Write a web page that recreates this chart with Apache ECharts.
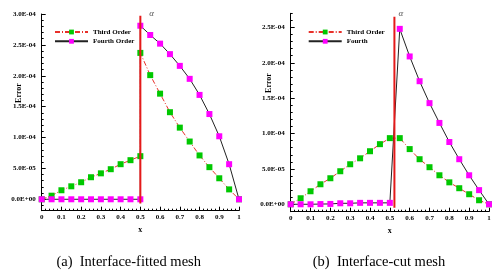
<!DOCTYPE html>
<html>
<head>
<meta charset="utf-8">
<script src="https://cdn.jsdelivr.net/npm/echarts@6/dist/echarts.min.js"></script>
<style>
html,body{margin:0;padding:0;background:#fff;}
#c{width:503px;height:276px;}
</style>
</head>
<body>
<div id="c"></div>
<script>
// ---- data ----
const xA = [0,0.05,0.1,0.15,0.2,0.25,0.3,0.35,0.4,0.45,0.5,0.5,0.55,0.6,0.65,0.7,0.75,0.8,0.85,0.9,0.95,1.0];
const thirdA = [0,5.8e-6,1.46e-5,2.1e-5,2.76e-5,3.57e-5,4.2e-5,4.87e-5,5.68e-5,6.33e-5,6.98e-5,2.37e-4,2.01e-4,1.71e-4,1.41e-4,1.16e-4,9.35e-5,7.1e-5,5.2e-5,3.4e-5,1.6e-5,0];
const fourthA = [0,0,0,0,0,0,0,0,0,0,0,2.81e-4,2.66e-4,2.52e-4,2.35e-4,2.16e-4,1.95e-4,1.69e-4,1.38e-4,1.02e-4,5.68e-5,0];
const xB = [0,0.05,0.1,0.15,0.2,0.25,0.3,0.35,0.4,0.45,0.5,0.55,0.6,0.65,0.7,0.75,0.8,0.85,0.9,0.95,1.0];
const thirdB = [0,8.5e-6,1.84e-5,2.83e-5,3.68e-5,4.67e-5,5.66e-5,6.5e-5,7.5e-5,8.5e-5,9.35e-5,9.35e-5,7.8e-5,6.37e-5,5.24e-5,4.1e-5,3.1e-5,2.27e-5,1.42e-5,5.7e-6,0];
const fourthB = [0,0,0,3e-7,5e-7,1.4e-6,1.4e-6,2e-6,2e-6,2e-6,2e-6,2.48e-4,2.09e-4,1.74e-4,1.43e-4,1.15e-4,8.8e-5,6.37e-5,4.1e-5,2e-5,0];
const alphaA = 0.5, alphaLineA = [-7e-6, 2.97e-4];
const alphaB = 0.523, alphaLineB = [-5e-6, 2.65e-4];
const yTicksA = [0,5e-5,1e-4,1.5e-4,2e-4,2.5e-4,3e-4];
const yTicksB = [0,5e-5,1e-4,1.5e-4,2e-4,2.5e-4];
const namesA = ['Third Order','Fourth Order'];
const namesB = ['Third Order','Fourth'];
const captions = ['(a)  Interface-fitted mesh','(b)  Interface-cut mesh'];

// ---- helpers ----
function fmtE(v){
  let s = Number(v).toExponential(1).toUpperCase();
  return s.replace(/E([+-])(\d+)$/, function(m,sg,d){ return 'E'+sg+(d.length<2?'0'+d:d); });
}
function minorList(lo, hi, step, major){
  const out=[];
  for(let i=Math.ceil(lo/step - 1e-9); i*step<=hi+1e-12; i++){
    if(i%major!==0) out.push(+(i*step).toPrecision(6));
  }
  return out;
}
const serif = 'Liberation Serif';
const lblStyle = {fontFamily:serif, fontWeight:'bold', fontSize:7, color:'#000'};

function yAxes(grid, min, max, ticks){
  return [
    {type:'value', gridIndex:grid, min:min, max:max, position:'left',
     splitLine:{show:false},
     axisLine:{show:true, lineStyle:{color:'#000', width:1}},
     axisTick:{show:true, inside:true, length:4, customValues:ticks, lineStyle:{color:'#000'}},
     axisLabel:Object.assign({show:true, customValues:ticks, formatter:fmtE, margin:6}, lblStyle)},
    {type:'value', gridIndex:grid, min:min, max:max, position:'left',
     splitLine:{show:false}, axisLine:{show:false},
     axisTick:{show:true, inside:true, length:2, customValues:minorList(min,max,1e-5,5), lineStyle:{color:'#000'}},
     axisLabel:{show:false}}
  ];
}
function xAxis(grid){
  return {type:'value', gridIndex:grid, min:0, max:1, interval:0.1,
    splitLine:{show:false},
    axisLine:{show:true, onZero:false, lineStyle:{color:'#000', width:1}},
    axisTick:{show:true, inside:true, length:4, lineStyle:{color:'#000'}},
    minorTick:{show:true, splitNumber:5, length:2, lineStyle:{color:'#000'}},
    axisLabel:Object.assign({margin:3, formatter:function(v){return String(+v.toFixed(2));}}, lblStyle),
    name:'x', nameLocation:'middle', nameGap:9,
    nameTextStyle:{fontFamily:serif, fontWeight:'bold', fontSize:8, color:'#000'}};
}
function pairs(xs, ys){ return xs.map((x,i)=>[x, ys[i]]); }

const thirdStyle = {
  type:'line', symbol:'rect', symbolSize:6,
  itemStyle:{color:'#00c800'},
  lineStyle:{color:'#e8302a', width:1, type:[5,2,1,2]},
  z:2
};
const fourthStyle = {
  type:'line', symbol:'rect', symbolSize:6,
  itemStyle:{color:'#ff00ff'},
  lineStyle:{color:'#222', width:1},
  z:3
};
function alphaSeries(xi, yAx, x, yr, off){
  return {type:'line', xAxisIndex:xi, yAxisIndex:yAx, symbol:'none', silent:true, z:4,
    lineStyle:{color:'#e41a1a', width:2},
    endLabel:{show:true, formatter:'α', distance:0, offset:off, align:'left',
      fontFamily:serif, fontStyle:'italic', fontSize:9, color:'#555'},
    data:[[x,yr[0]], [x,yr[1]]]};
}

const chart = echarts.init(document.getElementById('c'), null, {renderer:'canvas'});
const option = {
  animation:false,
  backgroundColor:'#fff',
  grid:[
    {left:41.7, top:14, width:197.3, height:196.7, containLabel:false},
    {left:290.7, top:13.3, width:198.3, height:198.4, containLabel:false}
  ],
  xAxis:[xAxis(0), xAxis(1)],
  yAxis:[].concat(yAxes(0,-1.85e-5,3e-4,yTicksA), yAxes(1,-1.05e-5,2.7e-4,yTicksB)),
  legend:[
    {data:namesA.map(n=>({name:n})), orient:'vertical', left:49, top:23.5, itemWidth:33, itemHeight:6, itemGap:2.3,
     textStyle:{fontFamily:serif, fontWeight:'bold', fontSize:7, color:'#000'}, selectedMode:false},
    {data:namesB.map(n=>({name:n})), orient:'vertical', left:302.7, top:23.5, itemWidth:33, itemHeight:6, itemGap:2.3,
     textStyle:{fontFamily:serif, fontWeight:'bold', fontSize:7, color:'#000'}, selectedMode:false}
  ],
  series:[
    Object.assign({}, thirdStyle, {name:namesA[0], xAxisIndex:0, yAxisIndex:0, data:pairs(xA, thirdA)}),
    Object.assign({}, fourthStyle, {name:namesA[1], xAxisIndex:0, yAxisIndex:0, data:pairs(xA, fourthA)}),
    alphaSeries(0, 0, alphaA, alphaLineA, [9,-2]),
    Object.assign({}, thirdStyle, {name:namesB[0], xAxisIndex:1, yAxisIndex:2, data:pairs(xB, thirdB)}),
    Object.assign({}, fourthStyle, {name:namesB[1], xAxisIndex:1, yAxisIndex:2, data:pairs(xB, fourthB)}),
    alphaSeries(1, 2, alphaB, alphaLineB, [4,-3])
  ],
  graphic:[
    {type:'text', x:19, y:93, rotation:Math.PI/2, style:{text:'Error', fontFamily:serif, fontWeight:'bold', fontSize:8, fill:'#000', align:'center', verticalAlign:'middle'}},
    {type:'text', x:269, y:83, rotation:Math.PI/2, style:{text:'Error', fontFamily:serif, fontWeight:'bold', fontSize:8, fill:'#000', align:'center', verticalAlign:'middle'}},
    {type:'text', x:128.7, y:261.7, style:{text:captions[0], fontFamily:serif, fontSize:14.5, fill:'#000', align:'center', verticalAlign:'middle'}},
    {type:'text', x:379, y:261.7, style:{text:captions[1], fontFamily:serif, fontSize:14.5, fill:'#000', align:'center', verticalAlign:'middle'}}
  ]
};
chart.setOption(option);
</script>
</body>
</html>
